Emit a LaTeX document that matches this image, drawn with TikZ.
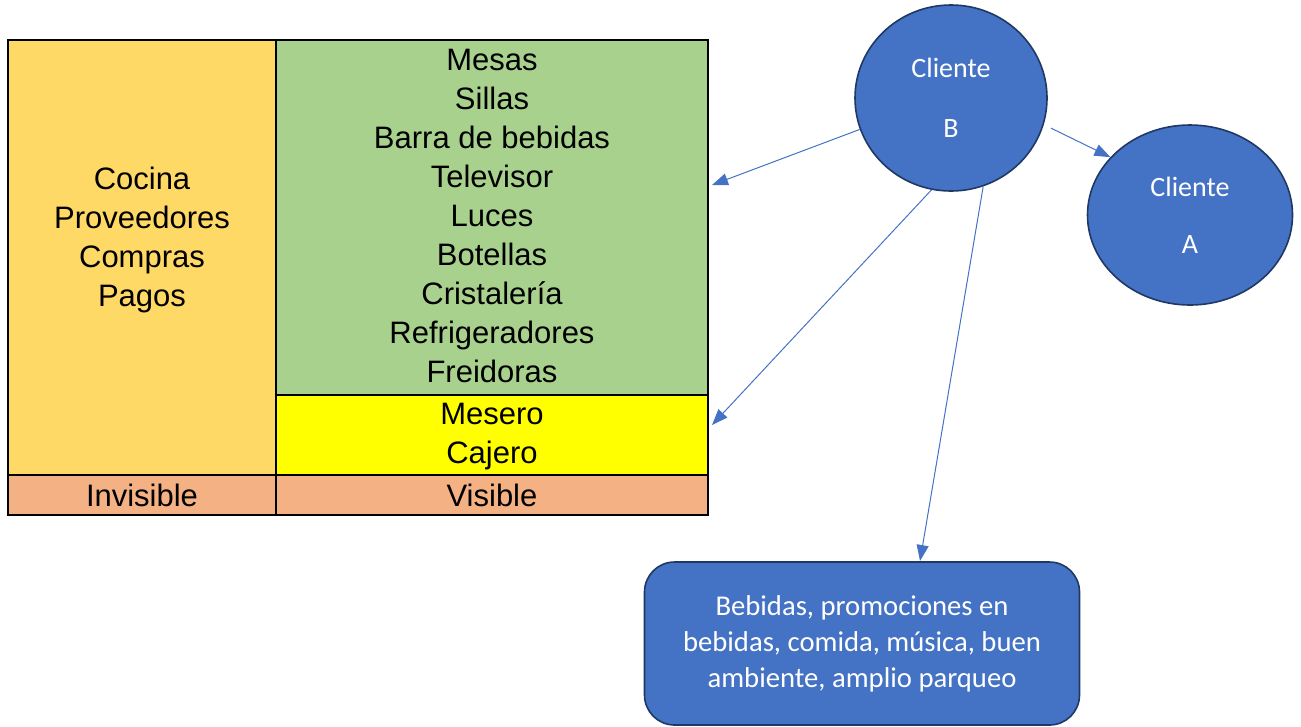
\documentclass[tikz,border=0pt]{standalone}
\usepackage{fontspec}
\setmainfont{Liberation Sans}
\newfontfamily\calibri{Carlito}
\usetikzlibrary{shapes.geometric}
\usetikzlibrary{arrows.meta}
\definecolor{oro}{HTML}{FFD966}
\definecolor{verde}{HTML}{A9D18E}
\definecolor{amar}{HTML}{FFFF00}
\definecolor{salmon}{HTML}{F4B183}
\definecolor{azul}{HTML}{4472C4}
\definecolor{marino}{HTML}{1F3864}

\begin{document}
\begin{tikzpicture}[x=0.75pt,y=-0.75pt,
    celda/.style={line width=1.5pt},
    tabla/.style={font=\fontsize{23.25}{29.25}\selectfont, align=center, inner sep=0pt},
    cliente/.style={ellipse, draw=marino, line width=1.2pt, fill=azul, text=white, inner sep=0pt,
        font=\calibri\fontsize{21}{25}\selectfont, align=center},
    caja/.style={rectangle, rounded corners=22.5pt, draw=marino, line width=1.2pt, fill=azul, text=white,
        font=\calibri\fontsize{21.5}{27}\selectfont, align=center, minimum width=326.25pt, minimum height=122.25pt},
    flecha/.style={draw=azul, line width=0.75pt, -{Triangle[length=12pt,width=9pt]}}]
        \useasboundingbox (0,0) rectangle (1301,726);
        \draw[celda, fill=oro](8,40) rectangle (276,475);
        \draw[celda, fill=verde](276,40) rectangle (708,395);
        \draw[celda, fill=amar](276,395) rectangle (708,475);
        \draw[celda, fill=salmon](8,475) rectangle (276,515);
        \draw[celda, fill=salmon](276,475) rectangle (708,515);
        \node[tabla] (back) at (142,240){Cocina\\Proveedores\\Compras\\Pagos};
        \node[tabla] (front) at (492,216){Mesas\\Sillas\\Barra de bebidas\\Televisor\\Luces\\Botellas\\Cristalería\\Refrigeradores\\Freidoras};
        \node[tabla] (staff) at (492,437){Mesero\\Cajero};
        \node[tabla] (invis) at (142,495){Invisible};
        \node[tabla] (vis) at (492,495){Visible};
        \node[cliente, minimum width=144pt, minimum height=139.5pt] (cb) at (951,98){Cliente\\[20pt]B};
        \node[cliente, minimum width=153.75pt, minimum height=135pt] (ca) at (1190,215){Cliente\\[18pt]A};
        \node[caja] (oferta) at (862,643.5){Bebidas, promociones en\\bebidas, comida, música, buen\\ambiente, amplio parqueo};
        \coordinate (p1) at (712,185);
        \coordinate (p2) at (712,425);
        \coordinate (p3) at (920,561);
        \draw[flecha](cb.199) -- (p1);
        \draw[flecha](cb.258) -- (p2);
        \draw[flecha](cb.290) -- (p3);
        \draw[flecha, shorten <=6pt](cb.344) -- (ca.144);
    \end{tikzpicture}
\end{document}
